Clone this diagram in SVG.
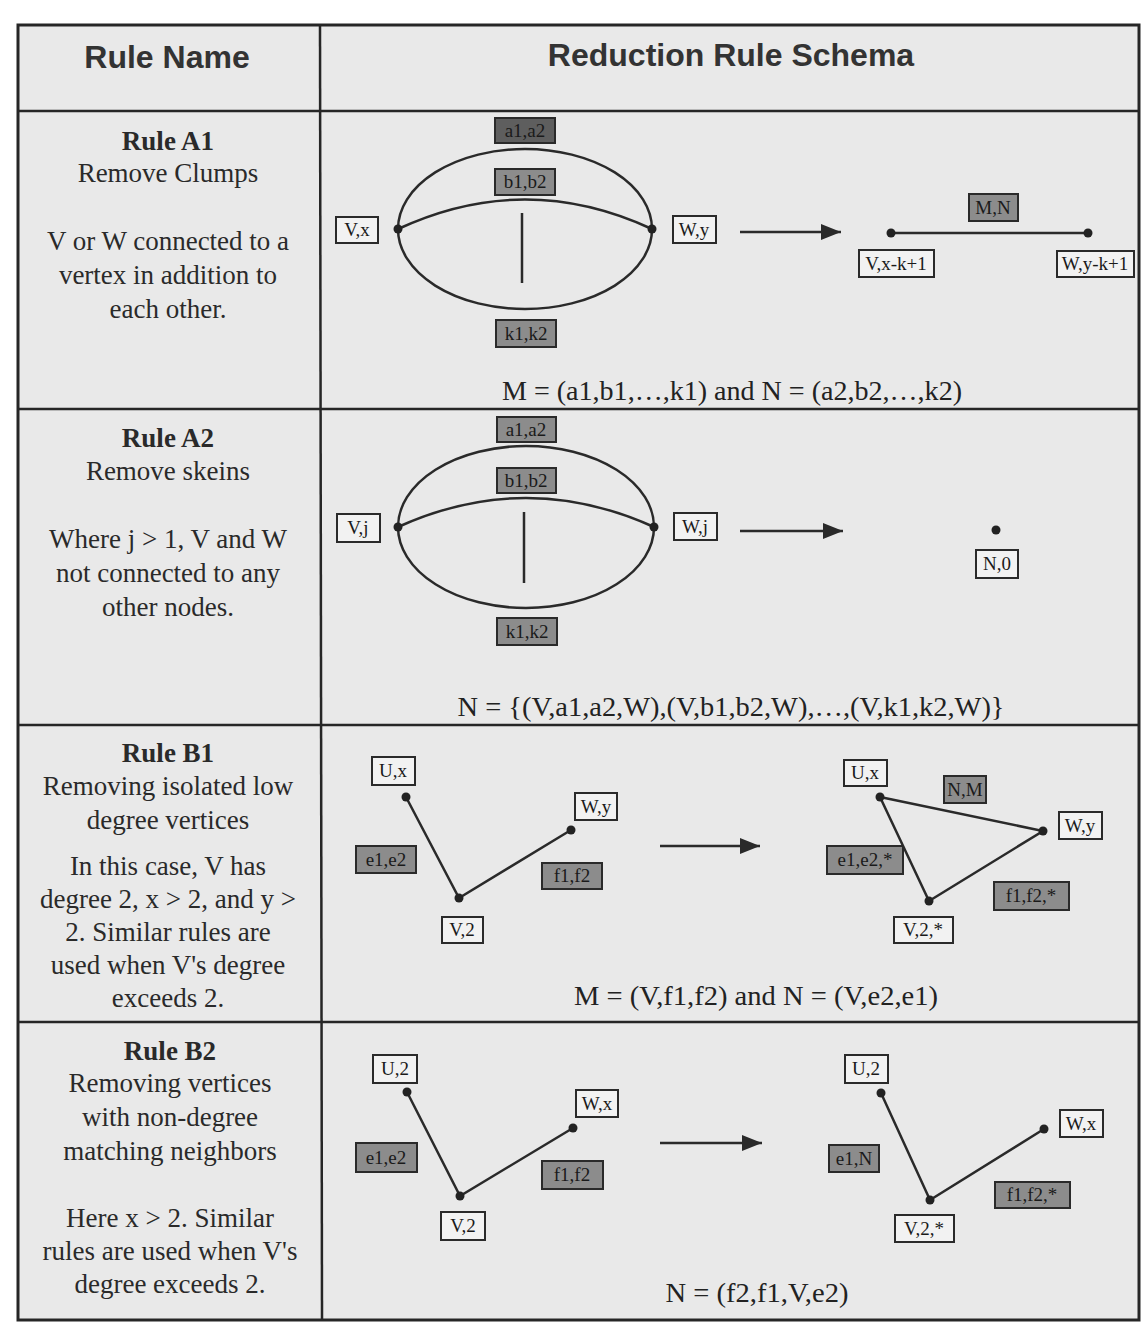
<svg xmlns="http://www.w3.org/2000/svg" width="1142" height="1323" viewBox="0 0 1142 1323">
<defs>
<style>
.bg{fill:#ffffff}
.tbl{fill:#e9e9e9;stroke:#262626;stroke-width:3}
.grid{stroke:#262626;stroke-width:2.5;fill:none}
.hdr{font-family:"Liberation Sans",Arial,sans-serif;font-weight:bold;font-size:32px;fill:#333;text-anchor:middle}
.rt{font-family:"Liberation Serif","Times New Roman",serif;font-size:27px;fill:#2a2a2a;text-anchor:middle}
.rb{font-weight:bold}
.fm{font-family:"Liberation Serif","Times New Roman",serif;font-size:27px;fill:#222;text-anchor:middle}
.edge{stroke:#2a2a2a;stroke-width:2.5;fill:none}
.dot{fill:#222}
.lw rect{fill:#f2f2f2;stroke:#2a2a2a;stroke-width:2}
.lg rect{fill:#8c8c8c;stroke:#2a2a2a;stroke-width:2}
.ld rect{fill:#5e5e5e;stroke:#2a2a2a;stroke-width:2}
.lw text,.lg text,.ld text{font-family:"Liberation Serif","Times New Roman",serif;font-size:19px;fill:#1a1a1a;text-anchor:middle}
</style>
<marker id="ah" viewBox="0 0 20 16" refX="20" refY="8" markerWidth="20" markerHeight="16" markerUnits="userSpaceOnUse" orient="auto">
<path d="M0,0 L20,8 L0,16 Z" fill="#2a2a2a"/>
</marker>
</defs>
<rect class="bg" x="0" y="0" width="1142" height="1323"/>
<g id="table">
<rect class="tbl" x="18" y="25" width="1121" height="1295"/>
<line class="grid" x1="320" y1="25" x2="322" y2="1320"/>
<line class="grid" x1="18" y1="111" x2="1139" y2="111"/>
<line class="grid" x1="18" y1="409" x2="1139" y2="409"/>
<line class="grid" x1="18" y1="725" x2="1139" y2="725"/>
<line class="grid" x1="18" y1="1022" x2="1139" y2="1022"/>
</g>
<g id="header">
<text class="hdr" x="167" y="68">Rule Name</text>
<text class="hdr" x="731" y="66">Reduction Rule Schema</text>
</g>
<g id="rule-names">
<g id="name-a1">
<text class="rt rb" x="168" y="150">Rule A1</text>
<text class="rt" x="168" y="182">Remove Clumps</text>
<text class="rt" x="168" y="250">V or W connected to a</text>
<text class="rt" x="168" y="284">vertex in addition to</text>
<text class="rt" x="168" y="318">each other.</text>
</g>
<g id="name-a2">
<text class="rt rb" x="168" y="447">Rule A2</text>
<text class="rt" x="168" y="480">Remove skeins</text>
<text class="rt" x="168" y="548">Where j &gt; 1, V and W</text>
<text class="rt" x="168" y="582">not connected to any</text>
<text class="rt" x="168" y="616">other nodes.</text>
</g>
<g id="name-b1">
<text class="rt rb" x="168" y="762">Rule B1</text>
<text class="rt" x="168" y="795">Removing isolated low</text>
<text class="rt" x="168" y="829">degree vertices</text>
<text class="rt" x="168" y="875">In this case, V has</text>
<text class="rt" x="168" y="908">degree 2, x &gt; 2, and y &gt;</text>
<text class="rt" x="168" y="941">2. Similar rules are</text>
<text class="rt" x="168" y="974">used when V's degree</text>
<text class="rt" x="168" y="1007">exceeds 2.</text>
</g>
<g id="name-b2">
<text class="rt rb" x="170" y="1060">Rule B2</text>
<text class="rt" x="170" y="1092">Removing vertices</text>
<text class="rt" x="170" y="1126">with non-degree</text>
<text class="rt" x="170" y="1160">matching neighbors</text>
<text class="rt" x="170" y="1227">Here x &gt; 2. Similar</text>
<text class="rt" x="170" y="1260">rules are used when V's</text>
<text class="rt" x="170" y="1293">degree exceeds 2.</text>
</g>
</g>
<g id="connectors">
<ellipse class="edge" cx="525" cy="229" rx="127" ry="80"/>
<path class="edge" d="M398,229 Q525,170 652,229"/>
<line class="edge" x1="522" y1="213" x2="522" y2="283"/>
<line class="edge" x1="740" y1="232" x2="841" y2="232" marker-end="url(#ah)"/>
<line class="edge" x1="891" y1="233" x2="1088" y2="233"/>
<ellipse class="edge" cx="526" cy="527" rx="128" ry="81"/>
<path class="edge" d="M398,527 Q526,469 654,527"/>
<line class="edge" x1="524" y1="512" x2="524" y2="583"/>
<line class="edge" x1="740" y1="531" x2="843" y2="531" marker-end="url(#ah)"/>
<polyline class="edge" points="406,797 459,898 571,830"/>
<line class="edge" x1="660" y1="846" x2="760" y2="846" marker-end="url(#ah)"/>
<polygon class="edge" points="880,797 1043,831 929,901"/>
<polyline class="edge" points="407,1092 460,1196 573,1128"/>
<line class="edge" x1="660" y1="1143" x2="762" y2="1143" marker-end="url(#ah)"/>
<polyline class="edge" points="881,1093 930,1200 1044,1129"/>
</g>
<g id="vertices">
<circle class="dot" cx="398" cy="229" r="4.5"/>
<circle class="dot" cx="652" cy="229" r="4.5"/>
<circle class="dot" cx="891" cy="233" r="4.5"/>
<circle class="dot" cx="1088" cy="233" r="4.5"/>
<circle class="dot" cx="398" cy="527" r="4.5"/>
<circle class="dot" cx="654" cy="527" r="4.5"/>
<circle class="dot" cx="996" cy="530" r="4.5"/>
<circle class="dot" cx="406" cy="797" r="4.5"/>
<circle class="dot" cx="459" cy="898" r="4.5"/>
<circle class="dot" cx="571" cy="830" r="4.5"/>
<circle class="dot" cx="880" cy="797" r="4.5"/>
<circle class="dot" cx="1043" cy="831" r="4.5"/>
<circle class="dot" cx="929" cy="901" r="4.5"/>
<circle class="dot" cx="407" cy="1092" r="4.5"/>
<circle class="dot" cx="460" cy="1196" r="4.5"/>
<circle class="dot" cx="573" cy="1128" r="4.5"/>
<circle class="dot" cx="881" cy="1093" r="4.5"/>
<circle class="dot" cx="930" cy="1200" r="4.5"/>
<circle class="dot" cx="1044" cy="1129" r="4.5"/>
</g>
<g id="a1-a1a2" class="ld"><rect x="495" y="118" width="60" height="25"/><text x="525" y="137">a1,a2</text></g>
<g id="a1-b1b2" class="lg"><rect x="495" y="169" width="60" height="26"/><text x="525" y="188">b1,b2</text></g>
<g id="a1-k1k2" class="lg"><rect x="496" y="320" width="60" height="27"/><text x="526" y="340">k1,k2</text></g>
<g id="a1-vx" class="lw"><rect x="336" y="217" width="42" height="26"/><text x="357" y="236">V,x</text></g>
<g id="a1-wy" class="lw"><rect x="673" y="216" width="43" height="27"/><text x="694" y="236">W,y</text></g>
<g id="a1-mn" class="lg"><rect x="969" y="194" width="49" height="27"/><text x="993" y="214">M,N</text></g>
<g id="a1-vxk" class="lw"><rect x="859" y="250" width="75" height="27"/><text x="896" y="270">V,x-k+1</text></g>
<g id="a1-wyk" class="lw"><rect x="1057" y="251" width="77" height="26"/><text x="1095" y="270">W,y-k+1</text></g>
<g id="a2-a1a2" class="lg"><rect x="497" y="417" width="59" height="25"/><text x="526" y="436">a1,a2</text></g>
<g id="a2-b1b2" class="lg"><rect x="497" y="468" width="59" height="25"/><text x="526" y="487">b1,b2</text></g>
<g id="a2-k1k2" class="lg"><rect x="497" y="618" width="60" height="27"/><text x="527" y="638">k1,k2</text></g>
<g id="a2-vj" class="lw"><rect x="337" y="514" width="43" height="28"/><text x="358" y="534">V,j</text></g>
<g id="a2-wj" class="lw"><rect x="674" y="513" width="43" height="27"/><text x="695" y="533">W,j</text></g>
<g id="a2-n0" class="lw"><rect x="976" y="550" width="42" height="28"/><text x="997" y="570">N,0</text></g>
<g id="b1-ux" class="lw"><rect x="372" y="757" width="43" height="28"/><text x="393" y="777">U,x</text></g>
<g id="b1-wy" class="lw"><rect x="575" y="793" width="42" height="27"/><text x="596" y="813">W,y</text></g>
<g id="b1-e1e2" class="lg"><rect x="356" y="846" width="60" height="27"/><text x="386" y="866">e1,e2</text></g>
<g id="b1-f1f2" class="lg"><rect x="542" y="863" width="60" height="26"/><text x="572" y="882">f1,f2</text></g>
<g id="b1-v2" class="lw"><rect x="442" y="917" width="41" height="26"/><text x="462" y="936">V,2</text></g>
<g id="b1r-ux" class="lw"><rect x="844" y="760" width="43" height="26"/><text x="865" y="779">U,x</text></g>
<g id="b1r-nm" class="lg"><rect x="944" y="776" width="42" height="27"/><text x="965" y="796">N,M</text></g>
<g id="b1r-wy" class="lw"><rect x="1059" y="812" width="43" height="27"/><text x="1080" y="832">W,y</text></g>
<g id="b1r-e1e2" class="lg"><rect x="827" y="846" width="76" height="28"/><text x="865" y="866">e1,e2,*</text></g>
<g id="b1r-f1f2" class="lg"><rect x="994" y="882" width="75" height="28"/><text x="1031" y="902">f1,f2,*</text></g>
<g id="b1r-v2" class="lw"><rect x="894" y="917" width="59" height="26"/><text x="923" y="936">V,2,*</text></g>
<g id="b2-u2" class="lw"><rect x="373" y="1055" width="44" height="28"/><text x="395" y="1075">U,2</text></g>
<g id="b2-wx" class="lw"><rect x="576" y="1090" width="42" height="27"/><text x="597" y="1110">W,x</text></g>
<g id="b2-e1e2" class="lg"><rect x="356" y="1143" width="61" height="29"/><text x="386" y="1164">e1,e2</text></g>
<g id="b2-f1f2" class="lg"><rect x="542" y="1161" width="61" height="28"/><text x="572" y="1181">f1,f2</text></g>
<g id="b2-v2" class="lw"><rect x="441" y="1212" width="44" height="28"/><text x="463" y="1232">V,2</text></g>
<g id="b2r-u2" class="lw"><rect x="845" y="1055" width="43" height="28"/><text x="866" y="1075">U,2</text></g>
<g id="b2r-wx" class="lw"><rect x="1060" y="1110" width="43" height="27"/><text x="1081" y="1130">W,x</text></g>
<g id="b2r-e1n" class="lg"><rect x="829" y="1145" width="50" height="27"/><text x="854" y="1165">e1,N</text></g>
<g id="b2r-f1f2" class="lg"><rect x="995" y="1182" width="75" height="26"/><text x="1032" y="1201">f1,f2,*</text></g>
<g id="b2r-v2" class="lw"><rect x="895" y="1215" width="59" height="27"/><text x="924" y="1235">V,2,*</text></g>
<g id="formulas">
<text class="fm" x="732" y="400" textLength="460" lengthAdjust="spacingAndGlyphs">M = (a1,b1,…,k1) and N = (a2,b2,…,k2)</text>
<text class="fm" x="731" y="716" textLength="547" lengthAdjust="spacingAndGlyphs">N = {(V,a1,a2,W),(V,b1,b2,W),…,(V,k1,k2,W)}</text>
<text class="fm" x="756" y="1005" textLength="364" lengthAdjust="spacingAndGlyphs">M = (V,f1,f2) and N = (V,e2,e1)</text>
<text class="fm" x="757" y="1302" textLength="183" lengthAdjust="spacingAndGlyphs">N = (f2,f1,V,e2)</text>
</g>
</svg>
